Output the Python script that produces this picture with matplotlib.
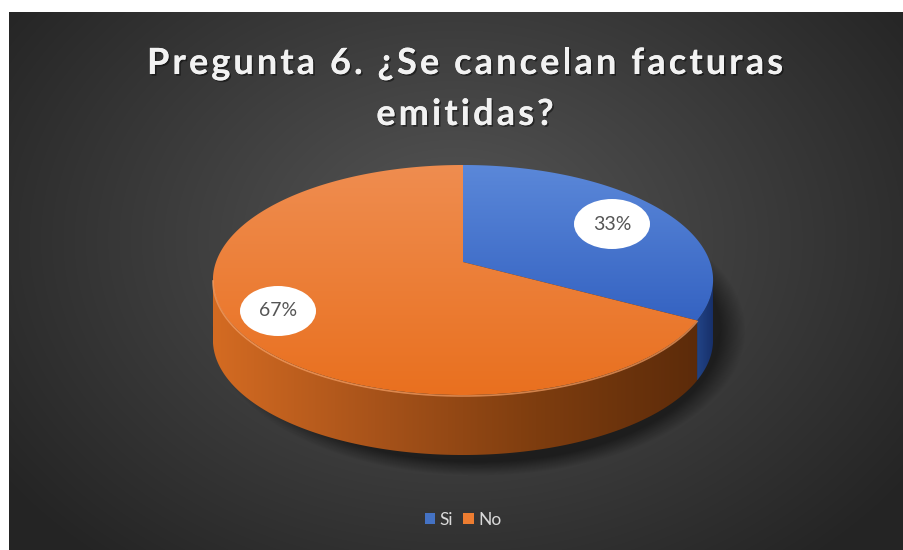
import numpy as np
import matplotlib
matplotlib.use("Agg")
import matplotlib.pyplot as plt
from matplotlib.colors import LinearSegmentedColormap, to_rgb
from matplotlib.patches import Polygon, Ellipse, Patch
from matplotlib.font_manager import FontProperties
import matplotlib.patheffects as pe

# data
categories = ["Si", "No"]
values = [33, 67]
labels = ["33%", "67%"]
colors_top = [("#5b88d9", "#3563c2"), ("#ef8d50", "#e9701f")]
colors_side = [("#224487", "#17306a"), ("#d46b22", "#a8531a", "#7e3d0f", "#5c2b0a")]
legend_colors = ["#4472c4", "#ed7d31"]
title_lines = ["Pregunta 6. ¿Se cancelan facturas", "emitidas?"]

W, H = 904, 550
# pie geometry in pixels (simple perspective of a tilted disc)
VX, VY = 463, 262
A, B, K = 247, 112.2, -0.1565
DEPTH = 60


def rim(t):
    t = np.radians(t)
    u, v = np.cos(t), np.sin(t)
    w = 1 + K * v
    return VX + A * u / w, VY + B * v / w


def grad_fill(ax, xy, cols, horizontal, zorder):
    xy = np.asarray(xy)
    x0, x1 = xy[:, 0].min(), xy[:, 0].max()
    y0, y1 = xy[:, 1].min(), xy[:, 1].max()
    cmap = LinearSegmentedColormap.from_list("g", list(cols))
    g = np.linspace(0, 1, 256)
    img = g[None, :] if horizontal else g[:, None]
    im = ax.imshow(img, cmap=cmap, extent=[x0, x1, y1, y0], aspect="auto",
                   interpolation="bilinear", zorder=zorder)
    poly = Polygon(xy, closed=True, facecolor="none", edgecolor="none",
                   transform=ax.transData)
    ax.add_patch(poly)
    im.set_clip_path(poly)


def text_width(renderer, t, prop):
    return renderer.get_text_width_height_descent(t, prop, ismath=False)[0]


def spaced_text(ax, renderer, cx, cy, s, prop, gap, **kw):
    # letter spaced text, centred on cx (pixel coords)
    wl = text_width(renderer, "l", prop)
    offs = [0.0] + [text_width(renderer, s[:i] + "l", prop) - wl
                    for i in range(1, len(s))]
    total = text_width(renderer, s, prop) + gap * (len(s) - 1)
    x0 = cx - total / 2
    for i, ch in enumerate(s):
        if ch == " ":
            continue
        ax.text(x0 + offs[i] + gap * i, cy, ch, ha="left", va="baseline",
                fontproperties=prop, **kw)


fig = plt.figure(figsize=(W / 100, H / 100), dpi=100, facecolor="white")
ax = fig.add_axes([0, 0, 1, 1])
ax.set_xlim(0, W)
ax.set_ylim(H, 0)
ax.axis("off")
renderer = fig.canvas.get_renderer()

# background radial gradient
yy, xx = np.mgrid[12:H, 9:W]
d = np.sqrt(((xx - 455) / 560.0) ** 2 + ((yy - 240) / 420.0) ** 2)
d = np.clip(d, 0, 1)
c0, c1 = np.array(to_rgb("#565656")), np.array(to_rgb("#242424"))
bg = c0[None, None, :] * (1 - d[..., None]) + c1[None, None, :] * d[..., None]
ax.imshow(bg, extent=[9, W, H, 12], aspect="auto", zorder=0)

# soft shadow under the pie, offset to the lower right
sx, sy = np.mgrid[150:800, 150:520]
sd = np.sqrt(((sx - 478) / 252.0) ** 2 + ((sy - 330) / 137.0) ** 2)
alpha = np.clip((1.06 - sd) / 0.1, 0, 1) * 0.5
shadow = np.zeros(sd.shape[::-1] + (4,))
shadow[..., 3] = alpha.T
ax.imshow(shadow, extent=[150, 800, 520, 150], aspect="auto", zorder=1,
          interpolation="bilinear")

fracs = np.array(values, dtype=float) / sum(values)
t_ext = np.degrees(np.arcsin(-K))
start = -90.0
spans = []
for f in fracs:
    spans.append((start, start + 360 * f))
    start += 360 * f

# side walls
for i, (s, e) in enumerate(spans):
    a0, a1 = max(s, t_ext), min(e, 180 - t_ext)
    if a1 <= a0:
        continue
    ts = np.linspace(a0, a1, 200)
    px, py = rim(ts)
    top = np.column_stack([px, py])
    bot = np.column_stack([px, py + DEPTH])[::-1]
    grad_fill(ax, np.vstack([top, bot]), colors_side[i], True, 2)
    if i == 1:
        ax.plot(px, py + 1, color="#f6a066", lw=1.2, alpha=0.7, zorder=4)

# top faces
for i, (s, e) in enumerate(spans):
    ts = np.linspace(s, e, 300)
    px, py = rim(ts)
    xy = np.vstack([[VX, VY], np.column_stack([px, py])])
    grad_fill(ax, xy, colors_top[i], False, 3)

# data labels
label_pos = [(612, 224), (278, 311)]
for lab, (lx, ly) in zip(labels, label_pos):
    ax.add_patch(Ellipse((lx, ly), 76, 50, facecolor="white", edgecolor="none",
                         zorder=5))
    ax.text(lx, ly, lab, ha="center", va="center", fontsize=14,
            family="Lato", color="#555555", zorder=6)

# title, letter spaced so the first line spans about 636 px
title_prop = FontProperties(family="Lato", weight="bold", size=26)
n0 = len(title_lines[0])
gap = (636 - text_width(renderer, title_lines[0], title_prop)) / (n0 - 1)
shadow_fx = [pe.withSimplePatchShadow(offset=(1.2, -1.2), shadow_rgbFace="black",
                                      alpha=0.45), pe.Normal()]
for j, line in enumerate(title_lines):
    spaced_text(ax, renderer, 465, 74 + 51 * j, line, title_prop, gap,
                color="#f2f2f2", path_effects=shadow_fx, zorder=6)

# legend
handles = [Patch(facecolor=c, edgecolor="none") for c in legend_colors]
ax.legend(handles, categories, loc="center", bbox_to_anchor=(463 / W, 1 - 520 / H),
          ncol=2, frameon=False, handlelength=0.6, handleheight=0.6,
          handletextpad=0.25, columnspacing=0.6,
          prop={"family": "Lato", "size": 12.5}, labelcolor="#d9d9d9")

fig.savefig("out.png", dpi=100, facecolor="white")
